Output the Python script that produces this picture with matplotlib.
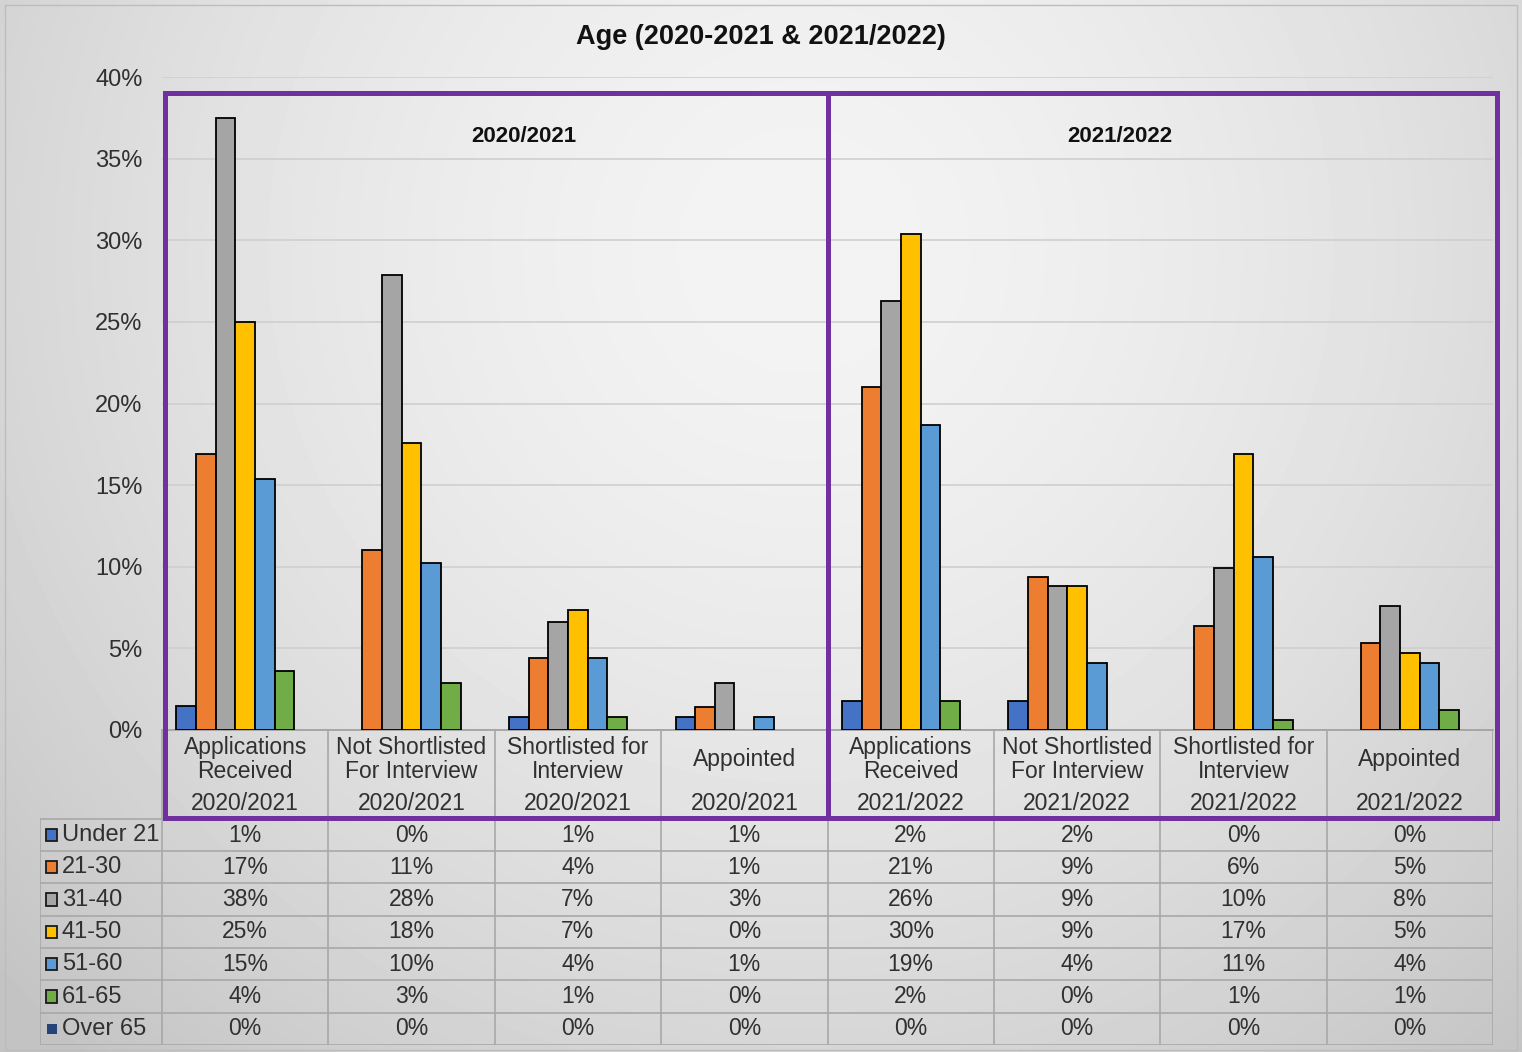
import numpy as np
import matplotlib
matplotlib.use("Agg")
import matplotlib.pyplot as plt
from matplotlib.patches import Rectangle

plt.rcParams['font.family'] = ['Liberation Sans', 'DejaVu Sans']

# ---- data (percent) ----
categories = ["Applications\nReceived", "Not Shortlisted\nFor Interview", "Shortlisted for\nInterview", "Appointed",
              "Applications\nReceived", "Not Shortlisted\nFor Interview", "Shortlisted for\nInterview", "Appointed"]
years = ["2020/2021"] * 4 + ["2021/2022"] * 4
series = ["Under 21", "21-30", "31-40", "41-50", "51-60", "61-65", "Over 65"]
under21 = [1.47, 0.0, 0.8, 0.8, 1.8, 1.8, 0.0, 0.0]
age21_30 = [16.9, 11.0, 4.4, 1.4, 21.0, 9.4, 6.4, 5.3]
age31_40 = [37.5, 27.9, 6.6, 2.9, 26.3, 8.8, 9.9, 7.6]
age41_50 = [25.0, 17.6, 7.35, 0.0, 30.4, 8.8, 16.9, 4.7]
age51_60 = [15.4, 10.2, 4.4, 0.8, 18.7, 4.1, 10.6, 4.1]
age61_65 = [3.6, 2.9, 0.8, 0.0, 1.8, 0.0, 0.6, 1.2]
over65 = [0.0, 0.0, 0.0, 0.0, 0.0, 0.0, 0.0, 0.0]
values = [under21, age21_30, age31_40, age41_50, age51_60, age61_65, over65]
colors = ["#4472C4", "#ED7D31", "#A5A5A5", "#FFC000", "#5B9BD5", "#70AD47", "#264478"]
period_labels = ["2020/2021", "2021/2022"]

W, H = 1522, 1052
fig = plt.figure(figsize=(W / 100, H / 100), dpi=100)
txt = '#303030'


def fx(x):
    return x / W


def fy(y):
    return 1 - y / H


# background gradient
bg = fig.add_axes([0, 0, 1, 1], zorder=-10)
yy, xx = np.mgrid[0:H, 0:W]
d = np.sqrt(((xx - 800) / 900.0) ** 2 + ((yy - 250) / 900.0) ** 2)
shade = 0.955 - 0.14 * np.clip(d, 0, 1.2) ** 1.6
bg.imshow(shade, cmap='gray', vmin=0, vmax=1, aspect='auto', extent=[0, 1, 0, 1])
bg.set_xlim(0, 1)
bg.set_ylim(0, 1)
bg.axis('off')
fig.add_artist(Rectangle((fx(5), fy(1050)), fx(1512), (1045) / H, transform=fig.transFigure,
                         fill=False, edgecolor='#BDBDBD', lw=1))

# main bar axes
ax = fig.add_axes([fx(162), fy(730), fx(1493 - 162), (730 - 77) / H])
ax.set_facecolor('none')
n = len(series)
bw = 0.118
x = np.arange(len(categories))
for i, (name, vals, c) in enumerate(zip(series, values, colors)):
    lws = [1.3 if v > 0 else 0 for v in vals]
    ax.bar(x + (i - (n - 1) / 2) * bw, vals, bw, color=c, edgecolor='black', linewidth=lws, zorder=3)
ax.set_xlim(-0.5, len(categories) - 0.5)
ax.set_ylim(0, 40)
ax.set_yticks(np.arange(0, 41, 5))
ax.set_yticklabels([f"{t}%" for t in range(0, 41, 5)], fontsize=17, color=txt)
ax.tick_params(axis='y', length=0, pad=14)
ax.set_xticks([])
ax.grid(axis='y', color='#CFCFCF', lw=1.2, zorder=0)
for s in ['left', 'right', 'top']:
    ax.spines[s].set_visible(False)
ax.spines['bottom'].set_color('#9E9E9E')
ax.spines['bottom'].set_linewidth(1.2)

# data table
tax = fig.add_axes([fx(40), fy(1045), fx(1493 - 40), (1045 - 730) / H])
tax.set_facecolor('none')
left = -0.5 - (162 - 40) / ((1493 - 162) / 8)
tax.set_xlim(left, len(categories) - 0.5)
hdr = 2.75
tax.set_ylim(hdr + n, 0)
tax.axis('off')
gc = '#A8A8A8'
for j in range(len(categories) + 1):
    tax.plot([j - 0.5, j - 0.5], [0, hdr + n], color=gc, lw=1.2)
tax.plot([left, left], [hdr, hdr + n], color=gc, lw=1.2)
for r in range(n + 1):
    tax.plot([left, len(categories) - 0.5], [hdr + r, hdr + r], color=gc, lw=1.2)
for j, (cat, yr) in enumerate(zip(categories, years)):
    tax.text(j, 0.92, cat, ha='center', va='center', fontsize=16.5, color=txt, linespacing=1.05)
    tax.text(j, 2.28, yr, ha='center', va='center', fontsize=16.5, color=txt)
for i, (name, vals, c) in enumerate(zip(series, values, colors)):
    yc = hdr + i + 0.5
    for j, v in enumerate(vals):
        tax.text(j, yc, f"{int(v + 0.5)}%", ha='center', va='center', fontsize=16.5, color=txt)
    if name == "Over 65":
        tax.add_patch(Rectangle((left + 0.04, yc - 0.15), 0.06, 0.3, facecolor=c, edgecolor='none'))
    else:
        tax.add_patch(Rectangle((left + 0.035, yc - 0.19), 0.07, 0.38, facecolor=c, edgecolor='#1a1a1a', lw=1.3))
    tax.text(left + 0.13, yc, name, ha='left', va='center', fontsize=17, color=txt)

# purple period boxes
purple = '#7030A0'
boxes = [(165, 828), (828, 1497)]
label_x = [524, 1120]
for (x0, x1), lx, lab in zip(boxes, label_x, period_labels):
    fig.add_artist(Rectangle((fx(x0), fy(818)), fx(x1 - x0), (818 - 93) / H, transform=fig.transFigure,
                             fill=False, edgecolor=purple, lw=3.6, zorder=20))
    fig.text(fx(lx), fy(137), lab, ha='center', va='center', fontsize=16, fontweight='bold', color='#111111')

fig.text(fx(761), fy(37), "Age (2020-2021 & 2021/2022)", ha='center', va='center', fontsize=19.5,
         fontweight='bold', color='#111111')

fig.savefig("out.png", dpi=100)
